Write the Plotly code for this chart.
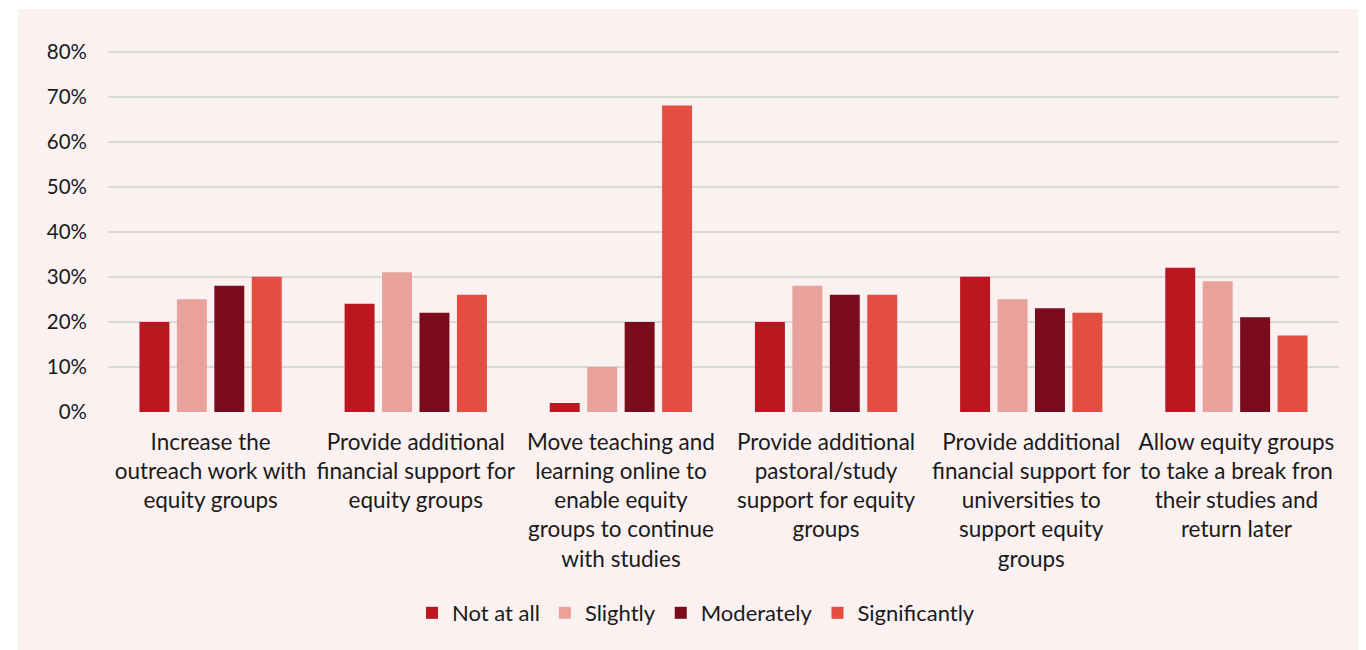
import plotly.graph_objects as go

categories = [
    "Increase the<br>outreach work with<br>equity groups",
    "Provide additional<br>financial support for<br>equity groups",
    "Move teaching and<br>learning online to<br>enable equity<br>groups to continue<br>with studies",
    "Provide additional<br>pastoral/study<br>support for equity<br>groups",
    "Provide additional<br>financial support for<br>universities to<br>support equity<br>groups",
    "Allow equity groups<br>to take a break fron<br>their studies and<br>return later",
]

not_at_all = [20, 24, 2, 20, 30, 32]
slightly = [25, 31, 10, 28, 25, 29]
moderately = [28, 22, 20, 26, 23, 21]
significantly = [30, 26, 68, 26, 22, 17]

series = [
    ("Not at all", not_at_all, "#BC1620"),
    ("Slightly", slightly, "#E8A19B"),
    ("Moderately", moderately, "#7A0C1C"),
    ("Significantly", significantly, "#E34D42"),
]

y_ticks = [0, 10, 20, 30, 40, 50, 60, 70, 80]
y_labels = [f"{v}%" for v in y_ticks]

fig = go.Figure()
for name, vals, color in series:
    fig.add_trace(go.Bar(x=categories, y=vals, name=name, marker_color=color,
                         marker_line_width=0))

# the page body adds an 8px margin, so the figure is 8px smaller each way
W, H = 1358, 642
L, R, T, B = 100, 27, 39, 238
pw, ph = W - L - R, H - T - B

# pale panel behind everything
fig.add_shape(type="rect", xref="paper", yref="paper", layer="below",
              x0=(10 - L) / pw, x1=(W - L) / pw,
              y0=-(B / ph), y1=(H - B - 1) / ph,
              fillcolor="#FBF1F0", line_width=0)

fig.update_layout(
    width=W, height=H,
    margin=dict(l=L, r=R, t=T, b=B),
    paper_bgcolor="white",
    plot_bgcolor="rgba(0,0,0,0)",
    barmode="group",
    bargap=0.27,
    bargroupgap=0.2,
    font=dict(family="Lato, Carlito, sans-serif", size=21, color="#1A1A1A"),
    showlegend=True,
    legend=dict(orientation="h", x=(688 - L) / pw, xanchor="center",
                y=-(605 - (H - B)) / ph, yanchor="middle",
                font=dict(size=22), bgcolor="rgba(0,0,0,0)"),
    xaxis=dict(showgrid=False, showline=False, ticks="", automargin=False,
               tickfont=dict(size=22.5), ticklabelstandoff=14),
    yaxis=dict(range=[0, 81], tickvals=y_ticks, ticktext=y_labels,
               showgrid=True, gridcolor="#D9D9D9", gridwidth=2,
               zeroline=False, showline=False, ticks="", automargin=False,
               ticklabelstandoff=20, tickfont=dict(size=20.5)),
)

fig.write_html("out.html")
